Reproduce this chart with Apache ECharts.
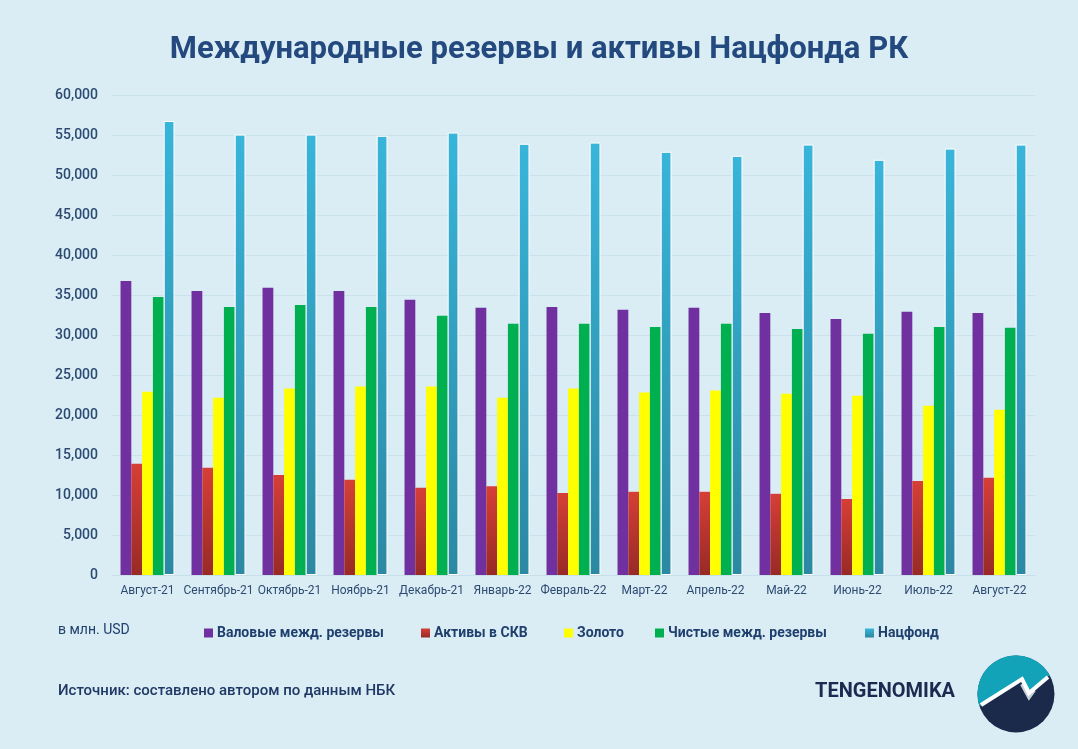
<!DOCTYPE html>
<html>
<head>
<meta charset="utf-8">
<script src="https://cdn.jsdelivr.net/npm/echarts@6/dist/echarts.min.js"></script>
<style>
html,body{margin:0;padding:0;background:#DAEDF4;}
#chart{width:1078px;height:749px;}
</style>
</head>
<body>
<div id="chart"></div>
<script>
const categories = ['Август-21','Сентябрь-21','Октябрь-21','Ноябрь-21','Декабрь-21','Январь-22','Февраль-22','Март-22','Апрель-22','Май-22','Июнь-22','Июль-22','Август-22'];
const grossReserves = [36750, 35500, 35900, 35500, 34400, 33400, 33500, 33150, 33400, 32750, 32000, 32900, 32750];
const fxAssets      = [13900, 13400, 12500, 11900, 10900, 11100, 10250, 10400, 10400, 10150, 9500, 11750, 12150];
const gold          = [22900, 22150, 23300, 23550, 23550, 22150, 23300, 22800, 23050, 22650, 22400, 21150, 20650];
const netReserves   = [34750, 33500, 33750, 33500, 32400, 31400, 31400, 31000, 31400, 30750, 30150, 31000, 30900];
const natFund       = [56750, 55050, 55050, 54900, 55300, 53900, 54050, 52900, 52400, 53800, 51900, 53300, 53800];
const yTicks = [0, 5000, 10000, 15000, 20000, 25000, 30000, 35000, 40000, 45000, 50000, 55000, 60000];
const seriesNames = ['Валовые межд. резервы','Активы в СКВ','Золото','Чистые межд. резервы','Нацфонд'];

const chart = echarts.init(document.getElementById('chart'), null, {renderer:'canvas'});
const FONT = 'Roboto, "Noto Sans", sans-serif';

function grad(top, bottom){
  return new echarts.graphic.LinearGradient(0,0,0,1,[{offset:0,color:top},{offset:1,color:bottom}]);
}

// logo polygon (decorative)
const cx = 1016, cy = 694, r = 38.5;
const a0 = Math.atan2(12,-36), a1 = Math.atan2(-19,34) + 2*Math.PI;
const topPts = [];
for (let i=0;i<=40;i++){ const a = a0 + (a1-a0)*i/40; topPts.push([cx + r*Math.cos(a), cy + r*Math.sin(a)]); }
topPts.push([1029,693],[1022,678],[980,706]);

function legendItem(name, left){
  return {
    data:[name], left:left, top:621, icon:'rect', itemWidth:9, itemHeight:9, itemGap:0,
    itemStyle:{borderWidth:0},
    textStyle:{fontFamily:FONT, fontSize:14, fontWeight:'bold', color:'#1F3F6E', padding:[0,0,0,-1]},
    selectedMode:false
  };
}

const option = {
  backgroundColor:'#DAEDF4',
  animation:false,
  title:{
    text:'Международные резервы и активы Нацфонда РК',
    left:'center', top:30,
    textStyle:{fontFamily:FONT, fontSize:31, fontWeight:'bold', color:'#23497E'}
  },
  legend:[
    legendItem(seriesNames[0], 199),
    legendItem(seriesNames[1], 416),
    legendItem(seriesNames[2], 559),
    legendItem(seriesNames[3], 650),
    legendItem(seriesNames[4], 860)
  ],
  grid:{left:112, right:43, top:95, bottom:174, containLabel:false},
  xAxis:{
    type:'category', data:categories,
    axisLine:{show:true, lineStyle:{color:'#C7DFEA', width:1}},
    axisTick:{show:false},
    axisLabel:{fontFamily:FONT, fontSize:12, color:'#2D4A72', margin:10, interval:0}
  },
  yAxis:{
    type:'value', min:0, max:60000, interval:5000,
    axisLine:{show:false}, axisTick:{show:false},
    splitLine:{lineStyle:{color:'#C9E2EC', width:1}},
    axisLabel:{fontFamily:FONT, fontSize:14, fontWeight:500, color:'#2D4A72', margin:14,
      formatter: v => yTicks.includes(v) ? v.toLocaleString('en-US') : ''}
  },
  series:[
    {name:seriesNames[0], type:'bar', data:grossReserves, barGap:'0%', barCategoryGap:'24%',
      itemStyle:{color:'#7030A0'}},
    {name:seriesNames[1], type:'bar', data:fxAssets,
      itemStyle:{color:grad('#D53F37','#982A26')}},
    {name:seriesNames[2], type:'bar', data:gold,
      itemStyle:{color:'#FFFF00'}},
    {name:seriesNames[3], type:'bar', data:netReserves,
      itemStyle:{color:'#00B050'}},
    {name:seriesNames[4], type:'bar', data:natFund,
      itemStyle:{color:grad('#38B5DA','#2B88A2'), borderColor:'#FFFFFF', borderWidth:1}}
  ],
  graphic:[
    {type:'text', left:58, top:623, style:{text:'в млн. USD', fontFamily:FONT, fontSize:14, fill:'#1F3F6E'}},
    {type:'text', left:58, top:684, style:{text:'Источник: составлено автором по данным НБК', fontFamily:FONT, fontSize:15, fontWeight:500, fill:'#1F3864'}},
    {type:'text', left:815, top:682, style:{text:'TENGENOMIKA', fontFamily:FONT, fontSize:20, fontWeight:'bold', fill:'#1B2A50'}},
    {type:'circle', shape:{cx:cx, cy:cy, r:r}, style:{fill:'#1B2A4A'}},
    {type:'polygon', shape:{points:topPts}, style:{fill:'#12A3B8'}},
    {type:'polyline', shape:{points:[[1022,684],[1029,697],[1034,690]]}, style:{stroke:'#C9D2DA', lineWidth:4, fill:null}},
    {type:'polyline', shape:{points:[[981,705],[1022,679],[1029,693],[1048,677]]}, style:{stroke:'#FFFFFF', lineWidth:4, fill:null, lineJoin:'miter'}}
  ]
};
chart.setOption(option);
</script>
</body>
</html>
